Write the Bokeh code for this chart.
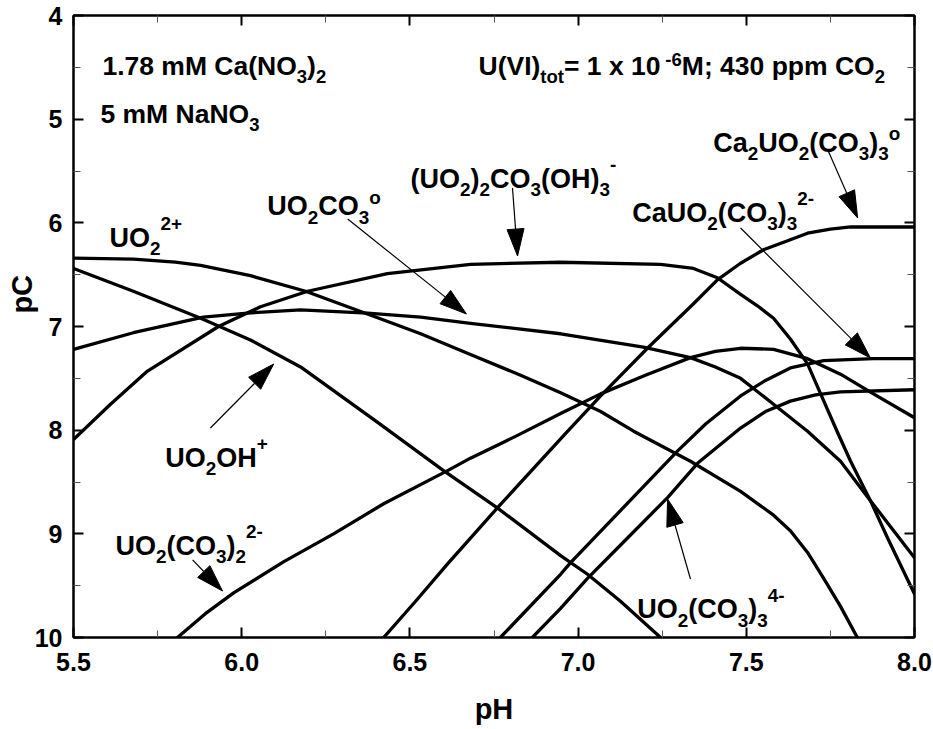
import math
from bokeh.plotting import figure
from bokeh.models import (Range1d, LinearAxis, FixedTicker, PrintfTickFormatter,
                          CustomJSTickFormatter, ColumnDataSource)
from bokeh.core.properties import value
from bokeh.embed import file_html
from bokeh.resources import INLINE

# ---------------- data ----------------
x_ticks = [5.5, 6.0, 6.5, 7.0, 7.5, 8.0]
x_minor = [5.75, 6.25, 6.75, 7.25, 7.75]
x_tick_labels = ["5.5", "6.0", "6.5", "7.0", "7.5", "8.0"]
y_ticks = [4, 5, 6, 7, 8, 9, 10]
y_minor = [4.5, 5.5, 6.5, 7.5, 8.5, 9.5]
y_tick_labels = ["4", "5", "6", "7", "8", "9", "10"]

# UO2^2+
uo2_ph = [5.500, 5.678, 5.803, 5.878, 6.026, 6.190, 6.374, 6.532, 6.680, 6.829, 6.948, 7.067,
          7.165, 7.334, 7.483, 7.581, 7.631, 7.682, 7.730, 7.780, 7.830]
uo2_pc = [6.34, 6.35, 6.38, 6.41, 6.51, 6.66, 6.88, 7.07, 7.27, 7.47, 7.64, 7.82,
          8.01, 8.30, 8.59, 8.82, 8.97, 9.18, 9.43, 9.70, 10.0]
# UO2OH+
uo2oh_ph = [5.500, 5.678, 5.878, 6.026, 6.175, 6.398, 6.600, 6.760, 6.948, 7.028, 7.126, 7.245]
uo2oh_pc = [6.44, 6.66, 6.92, 7.13, 7.39, 7.91, 8.39, 8.75, 9.21, 9.39, 9.65, 10.0]
# UO2CO3 (aq)
uo2co3_ph = [5.500, 5.678, 5.886, 6.017, 6.175, 6.374, 6.532, 6.680, 6.948, 7.194, 7.334, 7.408,
             7.483, 7.581, 7.682, 7.780, 7.869, 8.000]
uo2co3_pc = [7.22, 7.06, 6.91, 6.87, 6.84, 6.87, 6.91, 6.97, 7.07, 7.20, 7.30, 7.39,
             7.50, 7.75, 8.01, 8.30, 8.68, 9.23]
# (UO2)2CO3(OH)3-
dimer_ph = [5.500, 5.610, 5.720, 5.931, 6.056, 6.196, 6.433, 6.680, 6.948, 7.245, 7.343, 7.414,
            7.483, 7.533, 7.581, 7.631, 7.682, 7.721, 7.771, 7.810, 7.869, 7.920, 8.000]
dimer_pc = [8.09, 7.75, 7.43, 7.00, 6.81, 6.66, 6.49, 6.40, 6.38, 6.40, 6.44, 6.53,
            6.69, 6.80, 6.92, 7.12, 7.36, 7.65, 8.02, 8.30, 8.68, 9.04, 9.58]
# UO2(CO3)2^2-
uo2co32_ph = [5.809, 5.892, 5.976, 6.124, 6.273, 6.422, 6.612, 6.680, 6.814, 6.948, 7.067, 7.200,
              7.334, 7.408, 7.483, 7.581, 7.682, 7.780, 7.878, 8.000]
uo2co32_pc = [10.0, 9.77, 9.57, 9.27, 9.00, 8.71, 8.39, 8.27, 8.06, 7.84, 7.65, 7.47,
              7.30, 7.24, 7.21, 7.22, 7.31, 7.46, 7.65, 7.88]
# Ca2UO2(CO3)3 (aq)
ca2_ph = [6.422, 6.517, 6.612, 6.760, 6.963, 7.067, 7.206, 7.343, 7.414, 7.483, 7.551, 7.617,
          7.682, 7.750, 7.810, 8.000]
ca2_pc = [10.0, 9.65, 9.29, 8.75, 8.03, 7.67, 7.21, 6.78, 6.55, 6.39, 6.26, 6.18,
          6.10, 6.06, 6.04, 6.04]
# CaUO2(CO3)3^2-
ca1_ph = [6.769, 6.948, 6.977, 7.296, 7.379, 7.483, 7.557, 7.631, 7.730, 7.878, 8.000]
ca1_pc = [10.0, 9.39, 9.28, 8.20, 7.94, 7.67, 7.52, 7.40, 7.33, 7.31, 7.31]
# UO2(CO3)3^4-
uo2co33_ph = [6.864, 6.948, 7.028, 7.147, 7.266, 7.355, 7.483, 7.557, 7.631, 7.706, 7.780, 8.000]
uo2co33_pc = [10.0, 9.72, 9.43, 9.04, 8.65, 8.32, 7.98, 7.82, 7.72, 7.66, 7.63, 7.61]

# ---------------- figure ----------------
FONT = "Liberation Sans"
W_FIG, H_FIG = 933, 729
ML, MR, MT, MB = 73, 19, 15, 92

p = figure(width=W_FIG, height=H_FIG, x_range=Range1d(5.5, 8.0), y_range=Range1d(10, 4),
           min_border_left=ML, min_border_right=MR, min_border_top=MT, min_border_bottom=MB,
           output_backend="svg", toolbar_location=None, tools="")
p.grid.visible = False
p.outline_line_color = "black"
p.outline_line_width = 2
p.background_fill_color = "white"
p.border_fill_color = "white"

xt = FixedTicker(ticks=x_ticks, minor_ticks=x_minor)
yt = FixedTicker(ticks=y_ticks, minor_ticks=y_minor)


def style_axis(ax, ticker):
    ax.ticker = ticker
    ax.major_tick_in = 10
    ax.major_tick_out = 0
    ax.minor_tick_in = 7
    ax.minor_tick_out = 0
    ax.axis_line_width = 2
    ax.axis_line_color = "black"
    ax.major_tick_line_width = 2
    ax.minor_tick_line_width = 1
    ax.minor_tick_line_color = "#555555"
    ax.major_label_text_font = FONT
    ax.major_label_text_font_style = "bold"
    ax.major_label_text_font_size = "25px"
    ax.major_label_text_color = "black"


xa = p.xaxis[0]
ya = p.yaxis[0]
style_axis(xa, xt)
style_axis(ya, yt)
xa.formatter = PrintfTickFormatter(format="%.1f")
ya.formatter = PrintfTickFormatter(format="%d")
xa.major_label_standoff = 15
ya.major_label_standoff = 11
xa.axis_label = "pH"
# the y title sits above the frame centre in the reference: pad its start with no-break spaces
ya.axis_label = "\u00a0" * 8 + "pC"
for ax in (xa, ya):
    ax.axis_label_text_font = FONT
    ax.axis_label_text_font_style = "bold"
    ax.axis_label_text_font_size = "29px"
    ax.axis_label_text_color = "black"
xa.axis_label_standoff = 19
ya.axis_label_standoff = -6

blank = CustomJSTickFormatter(code="return ''")
top = LinearAxis(formatter=blank, major_label_standoff=0)
right = LinearAxis(formatter=blank, major_label_standoff=0)
style_axis(top, xt)
style_axis(right, yt)
top.major_label_text_font_size = "1px"
right.major_label_text_font_size = "1px"
p.add_layout(top, "above")
p.add_layout(right, "right")

# ---------------- curves ----------------
series = [
    (uo2_ph, uo2_pc), (uo2oh_ph, uo2oh_pc), (uo2co3_ph, uo2co3_pc), (dimer_ph, dimer_pc),
    (uo2co32_ph, uo2co32_pc), (ca2_ph, ca2_pc), (ca1_ph, ca1_pc), (uo2co33_ph, uo2co33_pc),
]
for xs, ys in series:
    p.line(xs, ys, line_color="black", line_width=3.3, line_join="round", line_cap="round")

# ---------------- arrows ----------------
arrows = [  # tail pH, tail pC, tip pH, tip pC
    (6.315, 5.963, 6.668, 6.879),
    (6.805, 5.664, 6.820, 6.320),
    (7.741, 5.288, 7.831, 5.953),
    (7.483, 6.050, 7.869, 7.304),
    (5.907, 7.979, 6.095, 7.362),
    (5.854, 9.252, 5.943, 9.551),
    (7.334, 9.436, 7.266, 8.664),
]
SX = (W_FIG - ML - MR) / 2.5
SY = (H_FIG - MT - MB) / 6.0
HEAD_L, HEAD_W = 27.0, 17.0
sx0, sy0, sx1, sy1 = [], [], [], []
hx, hy = [], []
for tx, ty, ex, ey in arrows:
    X0, Y0 = (tx - 5.5) * SX, (ty - 4) * SY
    X1, Y1 = (ex - 5.5) * SX, (ey - 4) * SY
    L = math.hypot(X1 - X0, Y1 - Y0)
    dx, dy = (X1 - X0) / L, (Y1 - Y0) / L
    BX, BY = X1 - dx * HEAD_L, Y1 - dy * HEAD_L
    nx, ny = -dy, dx
    pts = [(X1, Y1), (BX + nx * HEAD_W / 2, BY + ny * HEAD_W / 2), (BX - nx * HEAD_W / 2, BY - ny * HEAD_W / 2)]
    hx.append([q[0] / SX + 5.5 for q in pts])
    hy.append([q[1] / SY + 4 for q in pts])
    sx0.append(tx); sy0.append(ty)
    sx1.append(BX / SX + 5.5); sy1.append(BY / SY + 4)
p.segment(sx0, sy0, sx1, sy1, line_color="black", line_width=1.2)
p.patches(hx, hy, fill_color="black", line_color="black", line_width=1)

# ---------------- labels with sub/superscripts ----------------
AW = {' ': 278, '(': 333, ')': 333, '+': 584, '-': 333, '.': 278, ';': 333, '=': 584,
      'C': 722, 'H': 722, 'M': 833, 'N': 722, 'O': 778, 'U': 722, 'V': 667, 'I': 278,
      'a': 556, 'm': 889, 'o': 611, 'p': 611, 't': 333, 'x': 556}


def tw(s, size):
    return sum(AW.get(c, 556) for c in s) * size / 1000.0


labels = [
    (5.586, 4.487, 26.5, [("1.78 mM Ca(NO", "n"), ("3", "b"), (")", "n"), ("2", "b")]),
    (5.580, 4.950, 26.5, [("5 mM NaNO", "n"), ("3", "b")]),
    (6.704, 4.487, 26.5, [("U(VI)", "n"), ("tot", "b"), (" = 1 x 10", "n"), ("-6", "e"),
                          ("M; 430 ppm CO", "n"), ("2", "b")]),
    (5.607, 6.143, 27, [("UO", "n"), ("2", "b"), ("2+", "p")]),
    (6.076, 5.838, 27, [("UO", "n"), ("2", "b"), ("CO", "n"), ("3", "b"), ("o", "o")]),
    (6.502, 5.577, 27, [("(UO", "n"), ("2", "b"), (")", "n"), ("2", "b"), ("CO", "n"), ("3", "b"),
                        ("(OH)", "n"), ("3", "b"), ("-", "p")]),
    (7.402, 5.227, 27, [("Ca", "n"), ("2", "b"), ("UO", "n"), ("2", "b"), ("(CO", "n"), ("3", "b"),
                        (")", "n"), ("3", "b"), ("o", "o")]),
    (7.161, 5.902, 27, [("CaUO", "n"), ("2", "b"), ("(CO", "n"), ("3", "b"), (")", "n"), ("3", "b"),
                        ("2-", "p")]),
    (5.773, 8.265, 27, [("UO", "n"), ("2", "b"), ("OH", "n"), ("+", "p")]),
    (5.625, 9.117, 27, [("UO", "n"), ("2", "b"), ("(CO", "n"), ("3", "b"), (")", "n"), ("2", "b"),
                        ("2-", "p")]),
    (7.176, 9.728, 27, [("UO", "n"), ("2", "b"), ("(CO", "n"), ("3", "b"), (")", "n"), ("3", "b"),
                        ("4-", "p")]),
]
YOFF = {"n": 0, "b": 11, "p": -14, "o": -9, "e": -6}
XADJ = {"n": 0, "b": 0, "p": 0, "o": 0, "e": -2.5}
cols = dict(x=[], y=[], text=[], xo=[], yo=[], fs=[])
for x0, y0, base, runs in labels:
    cur = 0.0
    for txt, kind in runs:
        size = base if kind == "n" else round(base * 0.7, 1)
        cur += XADJ[kind]
        cols["x"].append(x0)
        cols["y"].append(y0)
        cols["text"].append(txt)
        cols["xo"].append(cur)
        cols["yo"].append(YOFF[kind])
        cols["fs"].append(f"{size}px")
        cur += tw(txt, size)
src = ColumnDataSource(cols)
p.text(x="x", y="y", text="text", x_offset="xo", y_offset="yo", text_font_size="fs", source=src,
       text_font=value(FONT), text_font_style="bold", text_color="black",
       text_align="left", text_baseline="alphabetic")

open("out.html", "w").write(file_html(p, INLINE))
